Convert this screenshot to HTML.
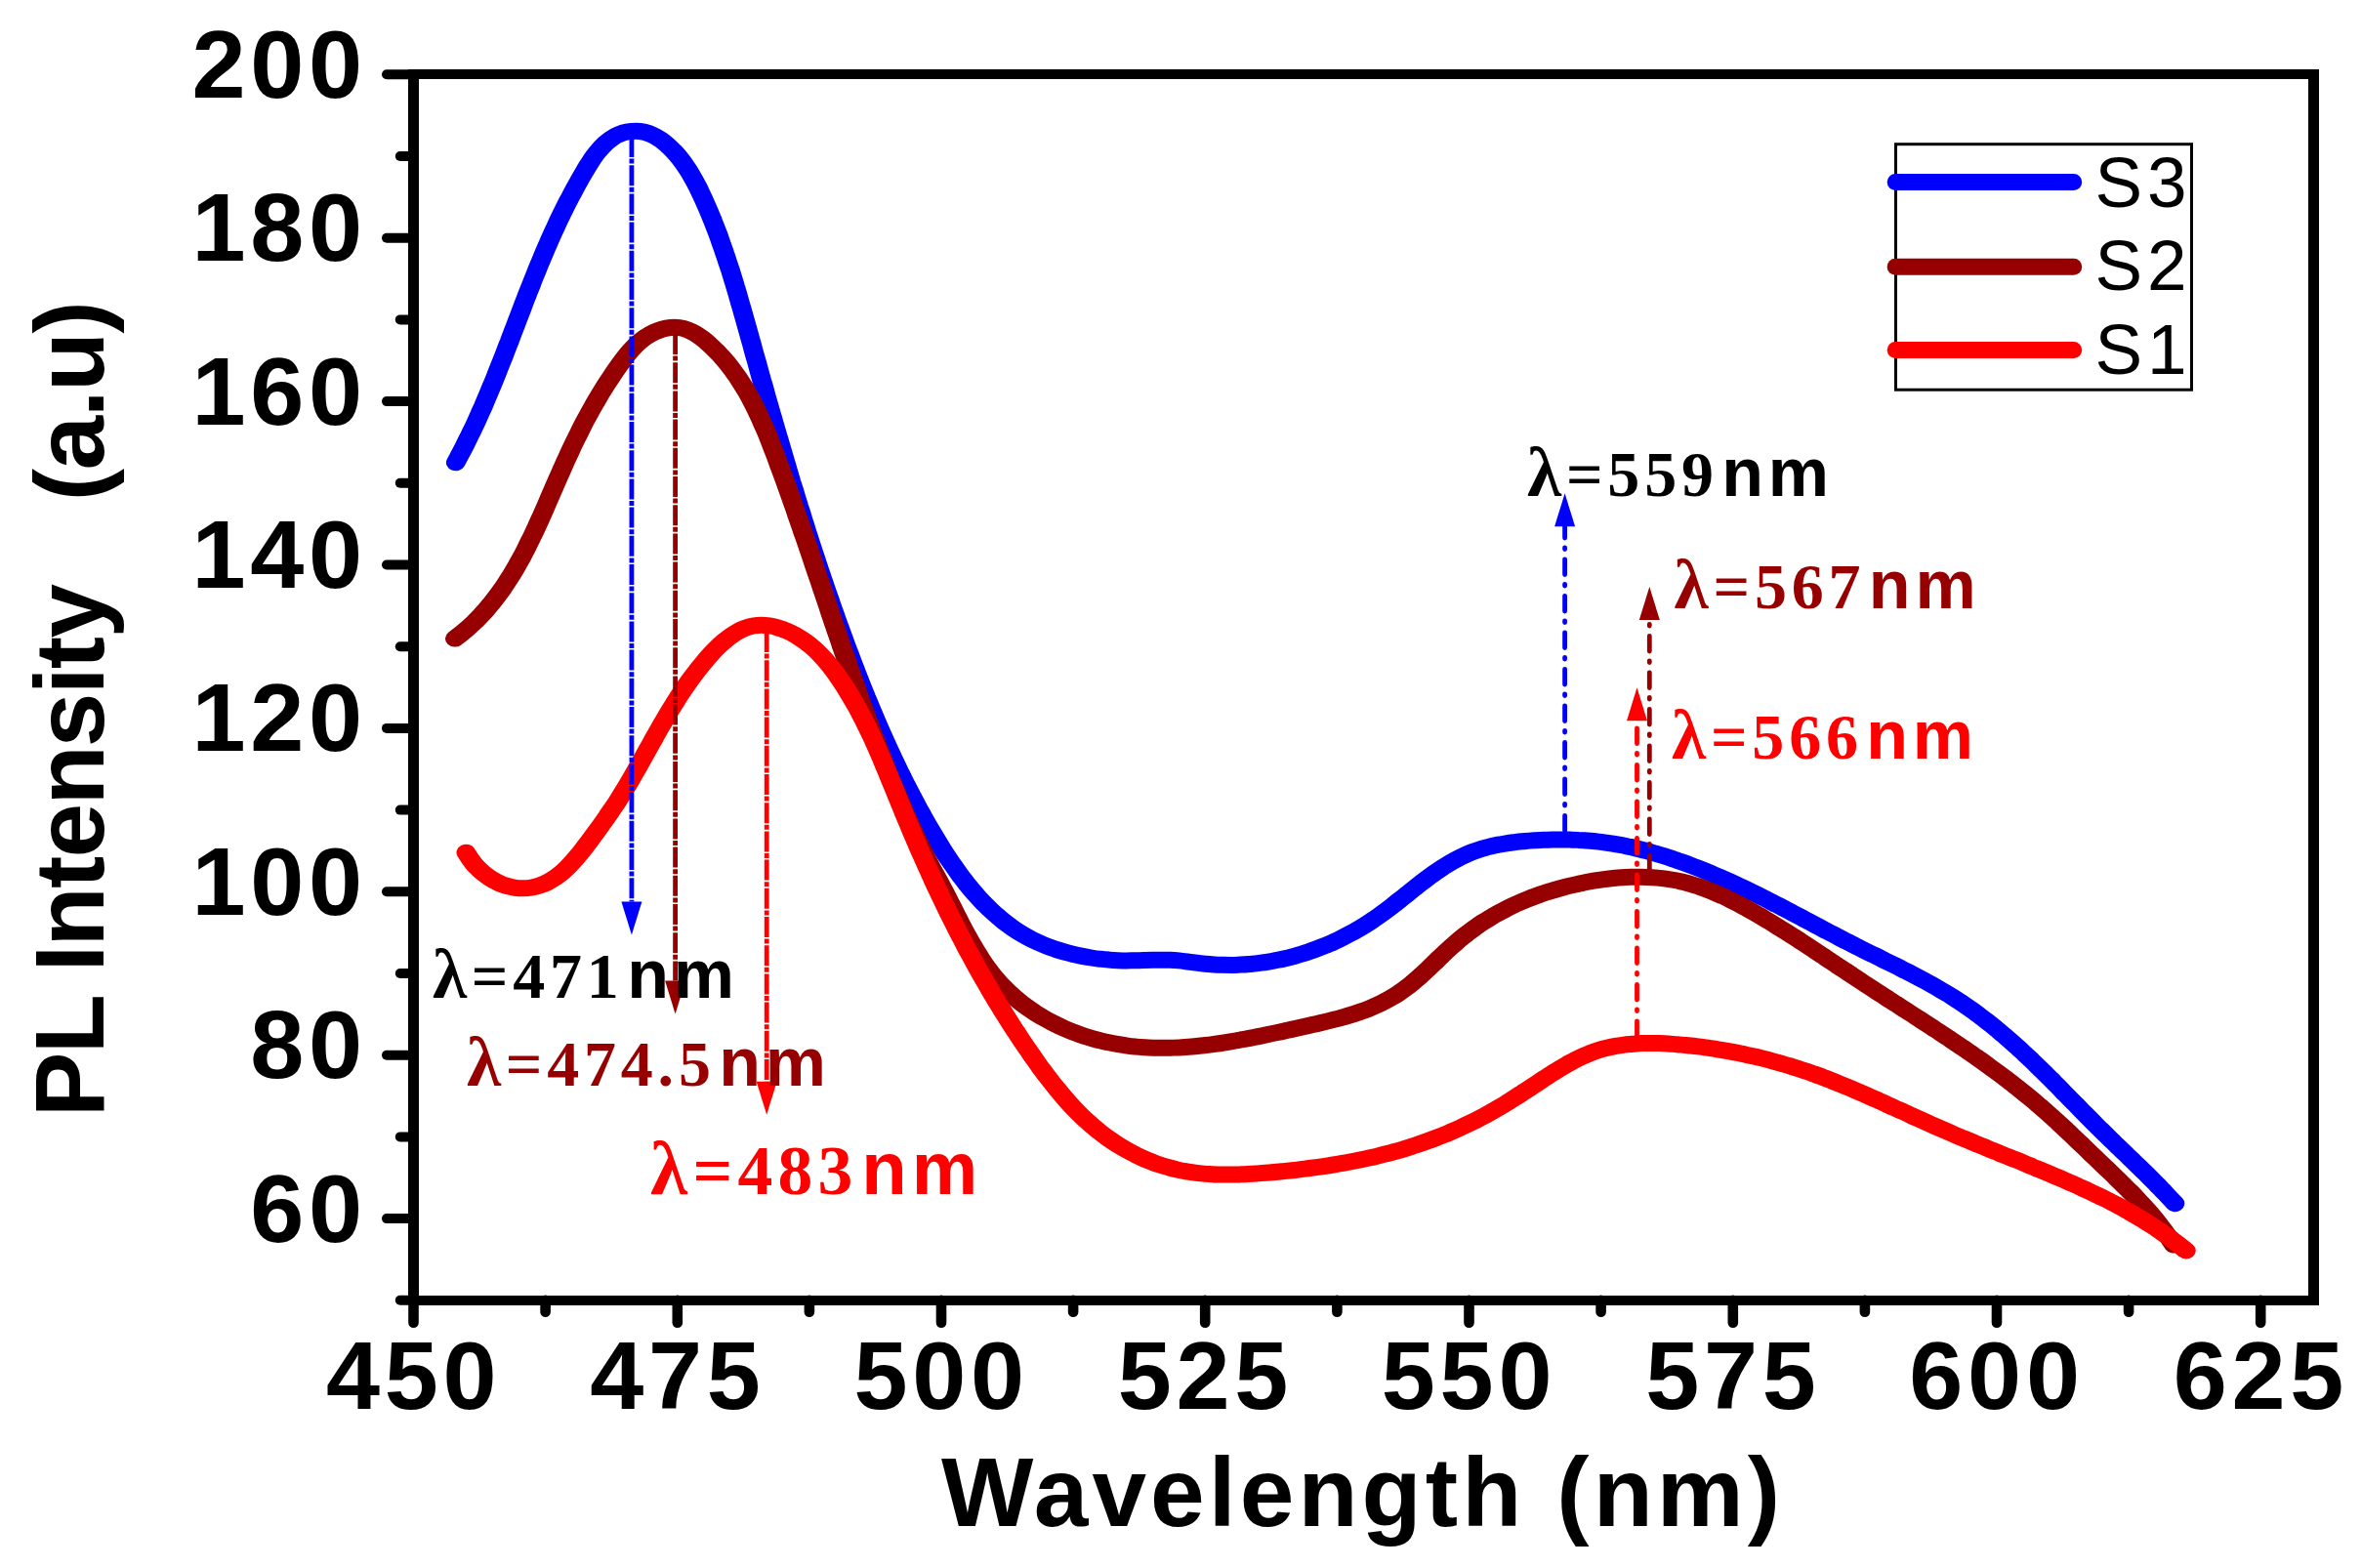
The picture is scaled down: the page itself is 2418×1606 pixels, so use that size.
<!DOCTYPE html>
<html lang="en"><head><meta charset="utf-8"><title>PL Intensity vs Wavelength</title>
<style>html,body{margin:0;padding:0;background:#fff}svg{display:block}.ab{font-family:"Liberation Sans",Arial,sans-serif;font-weight:bold}.ar{font-family:"Liberation Sans",Arial,sans-serif}.tb{font-family:"Liberation Serif","Times New Roman",serif;font-weight:bold}</style></head><body>
<svg width="2418" height="1606" viewBox="0 0 2418 1606">
<rect width="2418" height="1606" fill="#fff"/>
<g transform="scale(1.16 1)" fill="none" stroke-linecap="round" stroke-linejoin="round" stroke-width="17">
<path stroke="#0000ff" d="M402.4 473.7C403.0 472.4 404.9 468.3 406.1 465.6C407.4 462.9 408.6 460.2 409.8 457.5C411.0 454.8 412.1 452.0 413.3 449.3C414.4 446.6 415.6 443.9 416.7 441.2C417.9 438.5 419.0 435.8 420.1 433.0C421.2 430.2 422.2 427.4 423.3 424.7C424.3 421.9 425.4 419.2 426.5 416.5C427.5 413.8 428.5 411.0 429.5 408.2C430.5 405.4 431.5 402.7 432.5 399.9C433.5 397.1 434.5 394.4 435.5 391.6C436.5 388.8 437.4 386.1 438.4 383.3C439.3 380.5 440.3 377.7 441.2 374.9C442.2 372.1 443.1 369.4 444.1 366.6C445.0 363.8 446.0 361.0 446.9 358.2C447.8 355.4 448.7 352.7 449.7 349.9C450.6 347.1 451.5 344.3 452.4 341.5C453.3 338.7 454.3 335.9 455.2 333.1C456.1 330.3 457.0 327.6 457.9 324.8C458.9 322.0 459.8 319.2 460.7 316.4C461.6 313.6 462.5 310.8 463.4 308.0C464.4 305.2 465.3 302.5 466.2 299.7C467.1 296.9 468.1 294.1 469.1 291.3C470.0 288.5 470.9 285.8 471.9 283.0C472.9 280.2 473.9 277.4 474.8 274.6C475.8 271.8 476.8 269.1 477.8 266.3C478.8 263.5 479.8 260.8 480.8 258.0C481.8 255.2 482.8 252.4 483.9 249.7C484.9 246.9 485.9 244.2 487.0 241.5C488.0 238.8 489.2 235.9 490.3 233.2C491.4 230.4 492.4 227.7 493.5 225.0C494.7 222.3 495.8 219.5 497.0 216.8C498.1 214.1 499.2 211.4 500.4 208.7C501.6 206.0 502.9 203.3 504.1 200.6C505.4 197.9 506.6 195.2 507.8 192.5C509.1 189.8 510.4 187.1 511.7 184.4C513.0 181.7 514.3 179.1 515.7 176.4C517.0 173.7 518.4 171.0 519.8 168.4C521.3 165.8 522.7 163.2 524.2 160.7C525.7 158.2 527.3 155.8 529.0 153.6C530.6 151.3 532.4 149.2 534.2 147.2C536.1 145.2 538.0 143.4 540.0 141.8C542.0 140.2 544.2 138.8 546.5 137.7C548.8 136.6 551.2 135.7 553.7 135.1C556.2 134.5 558.8 134.2 561.3 134.2C563.8 134.2 566.3 134.6 568.8 135.3C571.2 136.0 573.7 137.0 576.0 138.2C578.4 139.4 580.6 141.0 582.8 142.7C584.9 144.4 587.0 146.4 589.1 148.4C591.1 150.4 593.0 152.7 594.8 154.9C596.7 157.1 598.4 159.4 600.0 161.8C601.6 164.2 603.2 166.6 604.7 169.1C606.1 171.6 607.6 174.1 609.0 176.7C610.3 179.3 611.6 181.9 612.8 184.5C614.1 187.1 615.3 189.8 616.5 192.5C617.6 195.2 618.7 198.0 619.8 200.7C620.9 203.4 622.0 206.2 623.0 208.9C624.1 211.7 625.1 214.4 626.1 217.2C627.1 220.0 628.1 222.7 629.1 225.5C630.0 228.3 631.0 231.1 631.9 233.9C632.8 236.7 633.8 239.5 634.7 242.3C635.5 245.1 636.4 248.0 637.2 250.8C638.1 253.6 639.0 256.5 639.8 259.3C640.7 262.1 641.4 265.0 642.2 267.8C643.0 270.6 643.9 273.5 644.7 276.3C645.4 279.1 646.2 282.0 647.0 284.9C647.7 287.8 648.5 290.6 649.2 293.5C650.0 296.4 650.7 299.2 651.4 302.1C652.1 305.0 652.8 307.9 653.5 310.8C654.3 313.7 655.0 316.5 655.7 319.4C656.4 322.3 657.1 325.2 657.8 328.1C658.5 331.0 659.2 333.9 659.9 336.8C660.6 339.7 661.3 342.5 662.0 345.4C662.7 348.3 663.4 351.2 664.1 354.1C664.7 357.0 665.4 359.9 666.1 362.8C666.8 365.7 667.6 368.6 668.3 371.5C669.0 374.4 669.7 377.3 670.3 380.2C671.0 383.1 671.7 386.0 672.4 388.9C673.1 391.8 673.9 394.7 674.6 397.6C675.3 400.5 675.9 403.3 676.6 406.2C677.3 409.1 678.1 412.0 678.8 414.9C679.5 417.8 680.2 420.7 680.9 423.6C681.7 426.5 682.4 429.4 683.1 432.3C683.8 435.2 684.5 438.1 685.3 441.0C686.0 443.9 686.8 446.7 687.5 449.6C688.2 452.5 688.9 455.4 689.7 458.3C690.4 461.2 691.2 464.1 691.9 467.0C692.6 469.9 693.3 472.7 694.1 475.6C694.8 478.5 695.5 481.4 696.3 484.3C697.0 487.2 697.8 490.0 698.5 492.9C699.3 495.8 700.1 498.7 700.9 501.6C701.6 504.5 702.3 507.3 703.1 510.2C703.9 513.1 704.7 515.9 705.4 518.8C706.2 521.7 707.0 524.5 707.8 527.4C708.5 530.3 709.3 533.1 710.1 536.0C710.9 538.9 711.6 541.7 712.4 544.6C713.2 547.5 714.0 550.3 714.8 553.2C715.6 556.1 716.4 558.9 717.2 561.8C718.0 564.7 718.9 567.5 719.7 570.4C720.5 573.3 721.2 576.1 722.1 579.0C722.9 581.9 723.7 584.6 724.6 587.5C725.4 590.4 726.2 593.2 727.1 596.1C727.9 599.0 728.7 601.8 729.6 604.6C730.4 607.4 731.3 610.3 732.2 613.1C733.0 615.9 733.8 618.8 734.7 621.6C735.5 624.4 736.5 627.3 737.3 630.1C738.2 632.9 739.0 635.8 739.9 638.6C740.8 641.4 741.7 644.2 742.6 647.0C743.5 649.8 744.4 652.7 745.3 655.5C746.1 658.3 747.0 661.1 747.9 663.9C748.8 666.7 749.8 669.5 750.7 672.3C751.6 675.1 752.5 677.9 753.4 680.7C754.4 683.5 755.3 686.3 756.2 689.1C757.1 691.9 758.1 694.7 759.1 697.5C760.0 700.3 760.9 703.0 761.9 705.8C762.9 708.6 763.9 711.3 764.8 714.1C765.8 716.9 766.8 719.6 767.8 722.4C768.8 725.2 769.8 727.9 770.8 730.7C771.8 733.5 772.8 736.2 773.8 739.0C774.8 741.8 775.8 744.5 776.9 747.2C777.9 750.0 779.0 752.8 780.1 755.5C781.1 758.2 782.2 761.0 783.3 763.7C784.3 766.4 785.4 769.1 786.5 771.8C787.6 774.5 788.7 777.3 789.8 780.0C790.9 782.7 792.1 785.4 793.2 788.1C794.3 790.8 795.5 793.5 796.6 796.2C797.8 798.9 798.9 801.6 800.1 804.3C801.3 807.0 802.5 809.6 803.7 812.3C804.9 815.0 806.1 817.6 807.3 820.3C808.5 823.0 809.8 825.6 811.0 828.3C812.3 830.9 813.5 833.6 814.8 836.2C816.1 838.9 817.4 841.6 818.7 844.2C820.0 846.8 821.3 849.4 822.7 852.0C824.0 854.6 825.4 857.3 826.7 859.9C828.1 862.5 829.5 865.1 830.9 867.7C832.3 870.3 833.6 872.9 835.1 875.4C836.5 877.9 838.0 880.5 839.5 883.0C841.0 885.5 842.5 887.9 844.0 890.4C845.5 892.9 847.0 895.4 848.5 897.8C850.1 900.2 851.7 902.5 853.3 904.9C854.9 907.2 856.5 909.6 858.2 911.9C859.9 914.2 861.6 916.4 863.3 918.6C865.0 920.8 866.8 923.0 868.5 925.1C870.3 927.2 872.1 929.4 874.0 931.4C875.8 933.4 877.7 935.4 879.7 937.3C881.6 939.2 883.4 941.1 885.4 943.0C887.4 944.9 889.5 946.7 891.6 948.4C893.6 950.1 895.6 951.8 897.8 953.4C899.9 955.0 902.1 956.5 904.3 958.0C906.5 959.5 908.8 960.9 911.0 962.2C913.3 963.5 915.7 964.8 918.0 966.0C920.4 967.2 922.7 968.4 925.2 969.5C927.6 970.6 930.1 971.5 932.6 972.5C935.1 973.5 937.6 974.4 940.1 975.2C942.6 976.0 945.2 976.8 947.8 977.5C950.3 978.2 952.9 978.8 955.5 979.4C958.1 980.0 960.7 980.5 963.4 981.0C966.0 981.5 968.6 981.9 971.2 982.2C973.8 982.6 976.4 982.9 979.1 983.1C981.7 983.4 984.3 983.6 986.9 983.7C989.5 983.8 992.2 983.9 994.7 983.9C997.3 983.9 999.9 983.8 1002.4 983.8C1005.0 983.8 1007.5 983.7 1010.1 983.6C1012.6 983.5 1015.2 983.4 1017.8 983.3C1020.3 983.2 1022.8 983.2 1025.3 983.2C1027.9 983.2 1030.4 983.2 1033.0 983.3C1035.6 983.4 1038.2 983.6 1040.8 983.9C1043.4 984.2 1045.9 984.6 1048.5 985.0C1051.1 985.4 1053.7 985.8 1056.3 986.2C1058.9 986.6 1061.5 986.9 1064.1 987.2C1066.8 987.5 1069.4 987.7 1072.0 987.9C1074.6 988.1 1077.2 988.2 1079.7 988.3C1082.3 988.4 1084.9 988.4 1087.5 988.4C1090.1 988.4 1092.7 988.2 1095.3 988.1C1097.8 988.0 1100.4 987.8 1103.0 987.5C1105.6 987.2 1108.1 987.0 1110.7 986.6C1113.2 986.2 1115.8 985.9 1118.4 985.4C1120.9 984.9 1123.4 984.4 1125.9 983.8C1128.5 983.2 1131.0 982.7 1133.5 982.0C1136.0 981.3 1138.5 980.6 1141.0 979.8C1143.5 979.0 1146.1 978.3 1148.5 977.4C1151.0 976.5 1153.4 975.6 1155.9 974.6C1158.3 973.6 1160.8 972.7 1163.2 971.6C1165.6 970.5 1168.0 969.4 1170.4 968.3C1172.8 967.1 1175.2 966.0 1177.6 964.7C1180.0 963.5 1182.3 962.1 1184.7 960.8C1187.0 959.4 1189.3 958.0 1191.6 956.6C1193.9 955.2 1196.2 953.7 1198.4 952.2C1200.7 950.7 1202.9 949.2 1205.1 947.6C1207.3 946.0 1209.6 944.3 1211.7 942.6C1213.9 940.9 1216.0 939.2 1218.1 937.5C1220.2 935.8 1222.3 933.9 1224.4 932.1C1226.5 930.3 1228.6 928.5 1230.6 926.6C1232.6 924.8 1234.6 922.9 1236.6 921.0C1238.7 919.1 1240.7 917.3 1242.8 915.4C1244.8 913.5 1246.8 911.6 1248.8 909.8C1250.8 907.9 1252.8 906.1 1254.8 904.3C1256.9 902.5 1258.9 900.7 1260.9 898.9C1263.0 897.1 1265.1 895.3 1267.2 893.6C1269.3 891.9 1271.4 890.3 1273.5 888.7C1275.7 887.1 1277.8 885.5 1280.0 884.0C1282.2 882.5 1284.3 881.1 1286.6 879.7C1288.8 878.3 1291.0 877.0 1293.4 875.8C1295.7 874.6 1298.0 873.4 1300.4 872.4C1302.8 871.4 1305.3 870.4 1307.8 869.5C1310.2 868.6 1312.8 867.8 1315.3 867.1C1317.9 866.4 1320.4 865.7 1323.0 865.1C1325.6 864.5 1328.2 864.1 1330.9 863.6C1333.5 863.1 1336.1 862.8 1338.8 862.4C1341.5 862.0 1344.2 861.8 1346.8 861.5C1349.5 861.2 1352.1 861.0 1354.7 860.8C1357.4 860.6 1360.0 860.4 1362.6 860.3C1365.2 860.2 1367.8 860.1 1370.4 860.0C1373.0 859.9 1375.6 859.9 1378.2 859.9C1380.8 859.9 1383.3 860.0 1385.9 860.1C1388.4 860.2 1391.0 860.2 1393.5 860.4C1396.1 860.5 1398.7 860.8 1401.2 861.0C1403.8 861.2 1406.3 861.5 1408.8 861.8C1411.3 862.1 1413.9 862.4 1416.4 862.8C1418.9 863.2 1421.4 863.6 1424.0 864.1C1426.5 864.6 1429.0 865.1 1431.6 865.6C1434.1 866.1 1436.5 866.8 1439.1 867.4C1441.6 868.0 1444.1 868.8 1446.6 869.5C1449.2 870.2 1451.7 870.9 1454.2 871.7C1456.7 872.5 1459.2 873.4 1461.7 874.2C1464.2 875.1 1466.7 875.9 1469.2 876.8C1471.7 877.7 1474.2 878.6 1476.6 879.6C1479.1 880.6 1481.7 881.6 1484.1 882.6C1486.6 883.6 1489.0 884.6 1491.5 885.7C1493.9 886.8 1496.4 887.9 1498.9 889.0C1501.3 890.1 1503.7 891.2 1506.1 892.4C1508.5 893.6 1511.0 894.8 1513.4 896.0C1515.9 897.2 1518.2 898.4 1520.6 899.6C1523.0 900.8 1525.4 902.0 1527.8 903.3C1530.1 904.5 1532.5 905.8 1534.8 907.1C1537.2 908.4 1539.5 909.7 1541.8 911.0C1544.1 912.3 1546.5 913.6 1548.8 914.9C1551.1 916.2 1553.4 917.5 1555.7 918.9C1558.0 920.2 1560.3 921.6 1562.6 923.0C1564.9 924.4 1567.2 925.7 1569.5 927.1C1571.8 928.5 1574.1 929.8 1576.4 931.2C1578.7 932.6 1580.9 934.0 1583.2 935.4C1585.5 936.8 1587.7 938.2 1590.0 939.6C1592.3 941.0 1594.5 942.4 1596.8 943.8C1599.1 945.2 1601.4 946.6 1603.6 948.0C1605.9 949.4 1608.1 950.8 1610.4 952.2C1612.7 953.6 1615.0 954.9 1617.3 956.3C1619.6 957.7 1621.9 959.1 1624.1 960.5C1626.4 961.9 1628.7 963.2 1631.0 964.6C1633.3 966.0 1635.7 967.3 1638.0 968.7C1640.3 970.1 1642.6 971.4 1644.9 972.8C1647.2 974.1 1649.6 975.5 1651.9 976.8C1654.2 978.1 1656.6 979.5 1659.0 980.8C1661.3 982.1 1663.6 983.5 1665.9 984.8C1668.3 986.1 1670.6 987.4 1672.9 988.8C1675.3 990.1 1677.6 991.5 1679.9 992.9C1682.2 994.3 1684.6 995.6 1686.9 997.0C1689.2 998.4 1691.5 999.8 1693.8 1001.2C1696.1 1002.6 1698.4 1004.0 1700.7 1005.5C1703.0 1007.0 1705.2 1008.4 1707.5 1009.9C1709.8 1011.4 1712.0 1012.9 1714.2 1014.4C1716.5 1015.9 1718.7 1017.4 1720.9 1019.0C1723.1 1020.6 1725.2 1022.2 1727.4 1023.8C1729.6 1025.4 1731.8 1027.1 1733.9 1028.8C1736.0 1030.5 1738.1 1032.2 1740.2 1033.9C1742.3 1035.6 1744.4 1037.4 1746.5 1039.2C1748.5 1041.0 1750.5 1042.8 1752.6 1044.6C1754.6 1046.4 1756.7 1048.3 1758.7 1050.2C1760.7 1052.1 1762.7 1054.0 1764.7 1055.9C1766.6 1057.8 1768.6 1059.8 1770.6 1061.7C1772.6 1063.7 1774.5 1065.6 1776.4 1067.6C1778.3 1069.6 1780.2 1071.6 1782.2 1073.6C1784.1 1075.6 1785.9 1077.7 1787.8 1079.7C1789.7 1081.8 1791.7 1083.8 1793.5 1085.9C1795.4 1088.0 1797.3 1090.1 1799.1 1092.2C1801.0 1094.3 1802.9 1096.4 1804.7 1098.5C1806.6 1100.6 1808.4 1102.8 1810.3 1104.9C1812.1 1107.0 1813.9 1109.2 1815.7 1111.3C1817.5 1113.4 1819.4 1115.6 1821.2 1117.8C1823.0 1120.0 1824.8 1122.0 1826.6 1124.2C1828.5 1126.4 1830.3 1128.5 1832.2 1130.7C1834.0 1132.9 1835.8 1135.1 1837.6 1137.2C1839.4 1139.3 1841.3 1141.5 1843.1 1143.6C1844.9 1145.7 1846.7 1147.9 1848.5 1150.0C1850.4 1152.1 1852.2 1154.3 1854.1 1156.4C1855.9 1158.5 1857.8 1160.6 1859.7 1162.7C1861.5 1164.8 1863.3 1166.9 1865.2 1169.0C1867.0 1171.1 1868.9 1173.1 1870.8 1175.2C1872.6 1177.3 1874.5 1179.4 1876.4 1181.5C1878.2 1183.6 1880.1 1185.6 1882.0 1187.7C1883.8 1189.8 1885.6 1191.9 1887.5 1194.0C1889.4 1196.1 1891.2 1198.2 1893.1 1200.3C1895.0 1202.4 1896.8 1204.5 1898.6 1206.6C1900.4 1208.7 1902.2 1210.8 1904.1 1213.0C1905.9 1215.2 1907.7 1217.3 1909.5 1219.5C1911.3 1221.7 1913.0 1223.8 1914.8 1226.0C1916.6 1228.2 1919.3 1231.6 1920.2 1232.7"/>
<path stroke="#960000" d="M401.6 654.1C402.6 653.2 405.8 650.4 407.8 648.5C409.9 646.6 411.9 644.5 413.9 642.5C415.8 640.5 417.7 638.5 419.6 636.4C421.4 634.3 423.2 632.1 425.0 629.9C426.8 627.7 428.4 625.5 430.1 623.3C431.8 621.0 433.4 618.7 435.0 616.4C436.6 614.1 438.2 611.7 439.7 609.3C441.3 606.9 442.8 604.5 444.2 602.0C445.7 599.5 447.1 597.1 448.4 594.6C449.8 592.1 451.2 589.6 452.6 587.0C453.9 584.4 455.2 581.8 456.5 579.2C457.7 576.6 459.0 574.0 460.3 571.4C461.5 568.8 462.7 566.1 463.9 563.4C465.1 560.7 466.2 558.0 467.3 555.3C468.5 552.6 469.7 549.8 470.8 547.1C471.9 544.4 473.0 541.6 474.1 538.9C475.1 536.1 476.3 533.4 477.3 530.6C478.4 527.8 479.5 525.1 480.5 522.3C481.6 519.5 482.6 516.8 483.6 514.0C484.7 511.2 485.7 508.5 486.7 505.7C487.8 502.9 488.8 500.2 489.8 497.4C490.9 494.6 491.9 491.9 492.9 489.1C494.0 486.3 495.1 483.6 496.1 480.8C497.2 478.1 498.2 475.3 499.2 472.6C500.3 469.9 501.4 467.2 502.5 464.5C503.6 461.8 504.6 459.1 505.7 456.4C506.8 453.7 507.9 451.1 509.1 448.4C510.2 445.7 511.4 443.0 512.5 440.4C513.6 437.8 514.8 435.1 515.9 432.5C517.1 429.9 518.3 427.3 519.6 424.7C520.8 422.1 522.1 419.4 523.4 416.8C524.6 414.2 525.8 411.7 527.2 409.1C528.5 406.5 529.8 403.9 531.2 401.3C532.6 398.7 533.9 396.2 535.3 393.6C536.8 391.1 538.2 388.6 539.7 386.0C541.1 383.4 542.5 380.8 544.1 378.3C545.6 375.8 547.1 373.3 548.7 370.8C550.3 368.3 551.9 365.8 553.6 363.4C555.3 361.0 557.1 358.6 558.9 356.4C560.7 354.2 562.6 352.1 564.6 350.1C566.6 348.2 568.6 346.3 570.8 344.7C572.9 343.1 575.2 341.6 577.6 340.3C579.9 339.0 582.4 337.9 584.8 337.1C587.3 336.3 589.9 335.8 592.3 335.5C594.8 335.2 597.2 335.2 599.7 335.6C602.1 336.0 604.5 336.7 606.8 337.7C609.1 338.7 611.4 339.9 613.6 341.4C615.8 342.9 617.9 344.7 620.0 346.5C622.1 348.3 624.1 350.4 626.0 352.4C628.0 354.4 629.9 356.6 631.7 358.7C633.6 360.8 635.3 363.0 637.1 365.2C638.8 367.4 640.5 369.8 642.2 372.1C643.8 374.4 645.4 376.8 646.9 379.2C648.4 381.6 649.9 384.0 651.4 386.5C652.8 389.0 654.2 391.5 655.5 394.0C656.9 396.5 658.3 399.1 659.6 401.7C660.9 404.3 662.1 407.0 663.3 409.6C664.5 412.2 665.7 414.9 666.8 417.6C668.0 420.3 669.1 423.1 670.2 425.8C671.3 428.6 672.4 431.3 673.4 434.1C674.5 436.9 675.5 439.6 676.6 442.4C677.6 445.2 678.5 448.1 679.5 450.9C680.4 453.7 681.4 456.6 682.3 459.4C683.3 462.2 684.3 465.1 685.2 467.9C686.1 470.7 686.9 473.5 687.8 476.4C688.8 479.2 689.7 482.1 690.6 485.0C691.5 487.9 692.4 490.7 693.3 493.5C694.2 496.3 695.0 499.2 695.9 502.0C696.7 504.8 697.7 507.6 698.5 510.5C699.4 513.4 700.3 516.2 701.1 519.1C702.0 522.0 702.8 524.8 703.6 527.6C704.5 530.4 705.4 533.3 706.2 536.1C707.1 538.9 707.9 541.8 708.7 544.6C709.6 547.4 710.4 550.3 711.3 553.1C712.1 555.9 713.0 558.8 713.8 561.6C714.6 564.4 715.5 567.3 716.3 570.1C717.1 572.9 717.9 575.8 718.7 578.6C719.5 581.4 720.4 584.3 721.2 587.1C722.0 589.9 722.9 592.7 723.7 595.5C724.5 598.3 725.3 601.2 726.1 604.0C726.9 606.8 727.8 609.6 728.6 612.5C729.5 615.4 730.3 618.2 731.1 621.1C731.9 624.0 732.7 626.8 733.5 629.6C734.4 632.4 735.2 635.3 736.0 638.1C736.9 640.9 737.7 643.8 738.5 646.6C739.4 649.4 740.2 652.2 741.0 655.1C741.9 658.0 742.7 660.9 743.5 663.7C744.4 666.6 745.3 669.4 746.1 672.2C747.0 675.0 747.8 677.9 748.6 680.7C749.5 683.6 750.3 686.4 751.2 689.3C752.1 692.1 752.9 695.0 753.8 697.8C754.7 700.6 755.5 703.4 756.4 706.3C757.2 709.1 758.1 712.0 759.0 714.9C759.8 717.8 760.7 720.6 761.6 723.4C762.5 726.2 763.4 729.1 764.3 731.9C765.2 734.7 766.1 737.6 767.0 740.4C767.9 743.2 768.8 746.0 769.7 748.8C770.7 751.6 771.6 754.5 772.5 757.3C773.4 760.1 774.3 763.0 775.3 765.8C776.2 768.6 777.2 771.4 778.1 774.2C779.1 777.0 780.0 779.8 780.9 782.6C781.9 785.4 782.8 788.2 783.8 791.0C784.8 793.8 785.7 796.5 786.7 799.3C787.7 802.1 788.7 804.8 789.7 807.6C790.7 810.4 791.8 813.1 792.8 815.9C793.8 818.7 794.8 821.5 795.8 824.2C796.8 827.0 797.8 829.7 798.9 832.4C799.9 835.1 801.0 837.9 802.1 840.6C803.1 843.3 804.2 846.0 805.3 848.7C806.3 851.4 807.4 854.1 808.4 856.7C809.5 859.4 810.6 862.0 811.7 864.6C812.8 867.2 814.0 869.8 815.1 872.4C816.2 875.0 817.3 877.6 818.4 880.1C819.6 882.6 820.7 885.1 821.9 887.6C823.0 890.1 824.2 892.5 825.3 895.0C826.5 897.5 827.7 900.0 828.9 902.5C830.0 905.0 831.2 907.5 832.3 910.0C833.5 912.5 834.6 915.1 835.8 917.7C836.9 920.3 838.1 923.0 839.2 925.6C840.4 928.2 841.6 930.9 842.8 933.6C843.9 936.3 845.1 939.0 846.3 941.7C847.5 944.4 848.7 947.2 849.9 949.9C851.1 952.6 852.4 955.3 853.7 958.0C855.0 960.7 856.3 963.4 857.6 966.0C858.9 968.6 860.3 971.3 861.6 973.9C863.0 976.5 864.4 979.1 865.9 981.7C867.3 984.3 868.8 986.8 870.3 989.3C871.9 991.8 873.5 994.2 875.1 996.6C876.7 999.0 878.3 1001.3 880.0 1003.6C881.7 1005.9 883.4 1008.1 885.3 1010.2C887.1 1012.4 889.0 1014.5 890.9 1016.5C892.8 1018.5 894.7 1020.6 896.6 1022.5C898.6 1024.4 900.5 1026.3 902.6 1028.1C904.6 1029.9 906.8 1031.7 908.9 1033.4C911.0 1035.1 913.2 1036.8 915.3 1038.4C917.5 1040.0 919.7 1041.5 922.0 1043.0C924.2 1044.5 926.5 1045.9 928.8 1047.3C931.1 1048.7 933.4 1050.0 935.8 1051.3C938.1 1052.6 940.5 1053.8 942.8 1054.9C945.2 1056.1 947.7 1057.2 950.1 1058.2C952.5 1059.2 954.9 1060.3 957.4 1061.2C959.9 1062.1 962.4 1063.0 964.9 1063.8C967.4 1064.6 969.9 1065.4 972.4 1066.1C974.9 1066.8 977.5 1067.5 980.0 1068.1C982.5 1068.7 985.0 1069.2 987.6 1069.7C990.1 1070.2 992.7 1070.7 995.3 1071.1C997.8 1071.5 1000.4 1071.8 1002.9 1072.1C1005.5 1072.4 1008.0 1072.6 1010.6 1072.8C1013.2 1073.0 1015.7 1073.1 1018.3 1073.2C1020.8 1073.3 1023.4 1073.3 1025.9 1073.3C1028.5 1073.3 1031.0 1073.3 1033.6 1073.2C1036.2 1073.1 1038.8 1073.1 1041.4 1072.9C1044.0 1072.8 1046.5 1072.5 1049.1 1072.3C1051.6 1072.1 1054.2 1071.8 1056.8 1071.5C1059.4 1071.2 1061.9 1070.8 1064.5 1070.5C1067.1 1070.2 1069.7 1069.8 1072.2 1069.4C1074.8 1069.0 1077.3 1068.6 1079.9 1068.1C1082.5 1067.6 1085.1 1067.1 1087.7 1066.6C1090.3 1066.1 1092.9 1065.5 1095.4 1065.0C1098.0 1064.5 1100.5 1064.0 1103.1 1063.4C1105.7 1062.8 1108.3 1062.2 1110.9 1061.6C1113.4 1061.0 1116.0 1060.4 1118.5 1059.8C1121.1 1059.2 1123.7 1058.6 1126.3 1057.9C1128.9 1057.2 1131.4 1056.6 1134.0 1055.9C1136.5 1055.2 1139.2 1054.7 1141.7 1054.0C1144.3 1053.3 1146.8 1052.7 1149.4 1052.0C1152.0 1051.3 1154.5 1050.7 1157.1 1050.0C1159.6 1049.3 1162.2 1048.7 1164.7 1048.0C1167.3 1047.3 1169.8 1046.6 1172.3 1045.9C1174.9 1045.2 1177.4 1044.5 1179.9 1043.7C1182.4 1042.9 1184.9 1042.1 1187.3 1041.3C1189.8 1040.5 1192.3 1039.6 1194.7 1038.7C1197.2 1037.8 1199.6 1036.9 1202.0 1035.9C1204.4 1034.9 1206.8 1033.9 1209.1 1032.8C1211.5 1031.7 1213.8 1030.5 1216.1 1029.3C1218.4 1028.1 1220.7 1026.8 1222.9 1025.4C1225.2 1024.0 1227.4 1022.6 1229.6 1021.1C1231.8 1019.6 1233.9 1018.0 1236.0 1016.3C1238.2 1014.6 1240.3 1012.8 1242.3 1011.0C1244.4 1009.2 1246.4 1007.2 1248.4 1005.3C1250.4 1003.3 1252.4 1001.3 1254.3 999.3C1256.3 997.3 1258.2 995.2 1260.1 993.1C1262.0 991.0 1263.9 988.8 1265.9 986.7C1267.8 984.6 1269.7 982.4 1271.6 980.3C1273.6 978.2 1275.5 976.0 1277.4 973.9C1279.4 971.8 1281.3 969.7 1283.3 967.7C1285.3 965.7 1287.3 963.6 1289.3 961.7C1291.3 959.8 1293.3 957.9 1295.3 956.1C1297.4 954.3 1299.5 952.5 1301.6 950.7C1303.7 949.0 1305.8 947.2 1307.9 945.6C1310.1 944.0 1312.2 942.4 1314.4 940.9C1316.6 939.4 1318.8 937.8 1321.0 936.4C1323.3 935.0 1325.5 933.6 1327.8 932.2C1330.0 930.8 1332.3 929.5 1334.6 928.2C1336.9 926.9 1339.1 925.7 1341.5 924.5C1343.8 923.3 1346.2 922.2 1348.5 921.1C1350.9 920.0 1353.3 918.9 1355.7 917.9C1358.1 916.9 1360.5 915.8 1362.9 914.9C1365.4 914.0 1367.8 913.1 1370.3 912.2C1372.7 911.3 1375.3 910.5 1377.8 909.7C1380.3 908.9 1382.7 908.1 1385.3 907.4C1387.8 906.7 1390.4 906.0 1392.9 905.4C1395.5 904.8 1398.0 904.1 1400.6 903.5C1403.2 902.9 1405.8 902.4 1408.4 901.9C1411.0 901.4 1413.6 901.0 1416.2 900.6C1418.8 900.2 1421.4 899.8 1424.1 899.5C1426.7 899.2 1429.3 898.9 1431.9 898.7C1434.5 898.5 1437.1 898.4 1439.7 898.3C1442.4 898.2 1445.0 898.2 1447.6 898.2C1450.2 898.2 1452.8 898.2 1455.4 898.4C1458.0 898.5 1460.6 898.8 1463.2 899.1C1465.8 899.4 1468.3 899.7 1470.9 900.1C1473.4 900.5 1476.0 901.0 1478.5 901.5C1481.1 902.0 1483.5 902.7 1486.0 903.4C1488.5 904.1 1491.0 904.9 1493.4 905.7C1495.9 906.5 1498.3 907.5 1500.8 908.4C1503.2 909.3 1505.6 910.3 1508.0 911.4C1510.4 912.5 1512.7 913.6 1515.1 914.8C1517.4 916.0 1519.8 917.1 1522.2 918.4C1524.5 919.7 1526.8 921.0 1529.1 922.4C1531.5 923.8 1533.8 925.1 1536.1 926.5C1538.4 927.9 1540.7 929.3 1542.9 930.8C1545.2 932.3 1547.5 933.8 1549.7 935.3C1552.0 936.8 1554.2 938.4 1556.5 939.9C1558.7 941.4 1560.9 942.9 1563.1 944.5C1565.3 946.1 1567.5 947.7 1569.7 949.3C1572.0 950.9 1574.2 952.5 1576.4 954.1C1578.6 955.7 1580.8 957.3 1582.9 958.9C1585.1 960.5 1587.2 962.2 1589.4 963.8C1591.6 965.4 1593.8 967.1 1595.9 968.7C1598.1 970.4 1600.3 972.0 1602.4 973.7C1604.6 975.4 1606.7 977.0 1608.9 978.7C1611.0 980.4 1613.2 982.0 1615.3 983.7C1617.5 985.4 1619.7 987.0 1621.8 988.7C1624.0 990.4 1626.1 992.1 1628.3 993.7C1630.4 995.4 1632.6 997.0 1634.7 998.6C1636.9 1000.2 1639.1 1001.9 1641.2 1003.6C1643.4 1005.3 1645.5 1007.0 1647.7 1008.6C1649.8 1010.2 1652.1 1011.9 1654.2 1013.5C1656.4 1015.1 1658.5 1016.8 1660.7 1018.4C1662.9 1020.0 1665.1 1021.7 1667.2 1023.3C1669.4 1024.9 1671.6 1026.6 1673.8 1028.2C1676.0 1029.8 1678.2 1031.5 1680.3 1033.1C1682.5 1034.7 1684.7 1036.4 1686.9 1038.0C1689.1 1039.6 1691.3 1041.3 1693.4 1042.9C1695.6 1044.5 1697.8 1046.2 1700.0 1047.8C1702.2 1049.4 1704.4 1051.1 1706.6 1052.8C1708.7 1054.5 1710.9 1056.0 1713.0 1057.7C1715.2 1059.4 1717.3 1061.0 1719.5 1062.7C1721.6 1064.4 1723.8 1066.0 1725.9 1067.7C1728.1 1069.4 1730.3 1071.1 1732.4 1072.8C1734.6 1074.5 1736.7 1076.2 1738.9 1077.9C1741.0 1079.6 1743.1 1081.4 1745.3 1083.1C1747.4 1084.8 1749.5 1086.5 1751.6 1088.3C1753.6 1090.0 1755.7 1091.8 1757.8 1093.6C1759.9 1095.4 1762.1 1097.1 1764.1 1098.9C1766.2 1100.7 1768.3 1102.5 1770.3 1104.3C1772.4 1106.1 1774.4 1108.0 1776.5 1109.8C1778.5 1111.6 1780.6 1113.4 1782.6 1115.3C1784.6 1117.2 1786.6 1119.1 1788.6 1121.0C1790.6 1122.9 1792.6 1124.8 1794.6 1126.7C1796.6 1128.6 1798.5 1130.6 1800.5 1132.6C1802.5 1134.6 1804.4 1136.5 1806.4 1138.5C1808.3 1140.5 1810.2 1142.5 1812.2 1144.5C1814.1 1146.5 1816.0 1148.6 1817.9 1150.6C1819.8 1152.6 1821.7 1154.7 1823.6 1156.7C1825.5 1158.8 1827.3 1160.8 1829.2 1162.9C1831.1 1165.0 1833.0 1167.1 1834.9 1169.2C1836.8 1171.3 1838.6 1173.3 1840.5 1175.4C1842.4 1177.5 1844.3 1179.6 1846.1 1181.7C1848.0 1183.8 1849.8 1185.8 1851.7 1187.9C1853.6 1190.0 1855.5 1192.1 1857.4 1194.2C1859.3 1196.3 1861.1 1198.3 1863.0 1200.4C1864.9 1202.5 1866.8 1204.6 1868.6 1206.7C1870.5 1208.8 1872.3 1210.9 1874.1 1213.0C1876.0 1215.1 1877.8 1217.3 1879.7 1219.4C1881.5 1221.5 1883.3 1223.6 1885.1 1225.8C1886.9 1228.0 1888.6 1230.2 1890.3 1232.4C1892.1 1234.6 1893.9 1236.8 1895.6 1239.1C1897.3 1241.3 1899.0 1243.6 1900.6 1245.9C1902.3 1248.2 1903.9 1250.6 1905.5 1252.9C1907.1 1255.2 1908.6 1257.6 1910.2 1260.0C1911.7 1262.4 1913.2 1264.9 1914.7 1267.4C1916.1 1269.9 1918.2 1273.7 1919.0 1275.0"/>
<path stroke="#ff0000" d="M411.5 873.2C412.2 874.5 414.2 878.4 415.8 880.9C417.3 883.4 419.0 885.9 420.9 888.1C422.7 890.4 424.7 892.4 426.8 894.4C428.9 896.4 431.0 898.2 433.3 899.9C435.5 901.5 437.8 903.0 440.2 904.3C442.5 905.5 445.0 906.6 447.4 907.4C449.9 908.2 452.4 908.9 454.8 909.3C457.3 909.7 459.8 909.8 462.2 909.8C464.7 909.8 467.2 909.5 469.6 909.0C472.0 908.5 474.3 907.8 476.6 906.9C479.0 906.0 481.2 904.9 483.4 903.6C485.6 902.3 487.8 900.8 489.8 899.2C491.9 897.6 493.9 895.8 495.9 893.9C497.8 892.0 499.7 889.9 501.6 887.7C503.4 885.6 505.2 883.3 507.0 881.0C508.8 878.7 510.5 876.2 512.2 873.8C513.9 871.4 515.5 868.9 517.2 866.4C518.8 863.9 520.5 861.3 522.1 858.8C523.7 856.3 525.3 853.9 526.8 851.4C528.4 848.9 529.9 846.5 531.4 844.0C532.9 841.5 534.4 839.1 535.9 836.6C537.3 834.1 538.8 831.7 540.3 829.2C541.7 826.7 543.2 824.3 544.6 821.8C546.0 819.3 547.3 816.8 548.6 814.3C550.0 811.8 551.3 809.2 552.7 806.7C554.0 804.2 555.3 801.7 556.6 799.1C557.9 796.5 559.2 793.9 560.4 791.3C561.7 788.7 563.0 786.2 564.2 783.6C565.5 781.0 566.8 778.4 568.0 775.8C569.3 773.2 570.5 770.6 571.7 768.0C573.0 765.4 574.3 762.8 575.5 760.2C576.8 757.6 578.0 754.9 579.3 752.3C580.6 749.7 581.8 747.1 583.1 744.5C584.4 741.9 585.7 739.3 587.0 736.7C588.3 734.1 589.6 731.6 590.9 729.0C592.3 726.4 593.6 723.8 595.0 721.3C596.4 718.8 597.7 716.2 599.1 713.7C600.5 711.2 602.0 708.6 603.4 706.1C604.9 703.6 606.4 701.1 607.9 698.6C609.5 696.1 611.0 693.6 612.6 691.2C614.2 688.8 615.8 686.4 617.4 684.0C619.1 681.6 620.8 679.2 622.5 676.8C624.2 674.4 626.0 672.1 627.8 669.8C629.6 667.5 631.4 665.2 633.3 663.1C635.2 661.0 637.2 658.9 639.1 657.0C641.1 655.1 643.1 653.2 645.2 651.5C647.2 649.8 649.3 648.2 651.5 646.8C653.6 645.4 655.8 644.3 658.0 643.3C660.3 642.3 662.6 641.5 664.9 641.0C667.3 640.5 669.7 640.2 672.1 640.2C674.5 640.2 676.9 640.5 679.4 640.9C681.9 641.3 684.4 642.0 686.9 642.9C689.4 643.8 691.9 644.8 694.3 646.0C696.8 647.2 699.2 648.6 701.6 650.1C703.9 651.6 706.1 653.3 708.3 655.0C710.5 656.7 712.6 658.5 714.7 660.4C716.7 662.3 718.7 664.3 720.6 666.4C722.5 668.5 724.3 670.7 726.1 672.9C727.9 675.1 729.6 677.4 731.3 679.7C733.0 682.0 734.6 684.5 736.1 686.9C737.7 689.3 739.2 691.8 740.7 694.3C742.2 696.8 743.7 699.3 745.1 701.9C746.5 704.5 747.9 707.0 749.2 709.6C750.6 712.2 751.9 714.8 753.2 717.4C754.5 720.0 755.8 722.6 757.1 725.2C758.3 727.8 759.5 730.5 760.7 733.2C761.9 735.9 763.1 738.5 764.2 741.2C765.4 743.9 766.5 746.6 767.6 749.3C768.7 752.0 769.8 754.7 770.9 757.4C771.9 760.1 773.0 762.9 774.1 765.6C775.1 768.3 776.1 771.0 777.2 773.8C778.2 776.5 779.2 779.3 780.2 782.1C781.2 784.9 782.2 787.6 783.2 790.4C784.2 793.2 785.1 795.9 786.1 798.7C787.1 801.5 788.1 804.2 789.1 807.0C790.0 809.8 791.0 812.6 792.0 815.4C793.0 818.2 793.9 820.9 794.9 823.7C795.9 826.5 796.9 829.2 797.8 832.0C798.8 834.8 799.8 837.5 800.8 840.3C801.8 843.1 802.8 845.8 803.8 848.6C804.8 851.4 805.8 854.1 806.8 856.9C807.8 859.7 808.9 862.5 809.9 865.2C810.9 868.0 811.9 870.7 812.9 873.4C814.0 876.1 815.1 878.9 816.1 881.6C817.2 884.3 818.2 887.1 819.3 889.8C820.4 892.5 821.4 895.3 822.5 898.0C823.6 900.7 824.6 903.5 825.7 906.2C826.8 908.9 827.9 911.6 829.0 914.3C830.1 917.0 831.2 919.7 832.3 922.4C833.4 925.1 834.6 927.8 835.7 930.5C836.8 933.2 838.0 935.9 839.1 938.6C840.3 941.3 841.4 943.9 842.6 946.6C843.7 949.3 844.9 951.9 846.0 954.6C847.2 957.3 848.5 959.9 849.7 962.6C850.8 965.3 852.0 968.0 853.2 970.6C854.4 973.2 855.7 975.9 856.9 978.5C858.1 981.1 859.4 983.8 860.6 986.4C861.8 989.0 863.0 991.7 864.3 994.3C865.6 996.9 866.9 999.5 868.2 1002.1C869.5 1004.7 870.8 1007.3 872.1 1009.9C873.4 1012.5 874.6 1015.1 875.9 1017.7C877.3 1020.3 878.6 1022.8 879.9 1025.4C881.3 1028.0 882.6 1030.5 884.0 1033.1C885.3 1035.7 886.7 1038.2 888.1 1040.8C889.5 1043.3 890.8 1045.9 892.2 1048.4C893.6 1050.9 895.0 1053.5 896.5 1056.0C897.9 1058.5 899.3 1061.1 900.8 1063.6C902.2 1066.1 903.7 1068.6 905.2 1071.1C906.6 1073.6 908.1 1076.0 909.6 1078.5C911.0 1081.0 912.5 1083.5 914.1 1086.0C915.6 1088.5 917.1 1091.0 918.6 1093.4C920.2 1095.9 921.7 1098.3 923.3 1100.7C924.9 1103.1 926.5 1105.5 928.1 1107.9C929.7 1110.3 931.3 1112.6 932.9 1114.9C934.6 1117.2 936.3 1119.6 937.9 1121.9C939.6 1124.2 941.3 1126.5 943.0 1128.7C944.7 1130.9 946.5 1133.1 948.3 1135.3C950.1 1137.5 951.9 1139.6 953.7 1141.7C955.5 1143.8 957.4 1145.9 959.3 1147.9C961.2 1149.9 963.1 1151.9 965.1 1153.8C967.0 1155.7 969.0 1157.7 971.0 1159.5C973.0 1161.3 975.1 1163.2 977.2 1164.9C979.2 1166.7 981.4 1168.3 983.5 1170.0C985.7 1171.7 987.9 1173.3 990.1 1174.8C992.3 1176.3 994.5 1177.8 996.7 1179.2C999.0 1180.6 1001.3 1182.0 1003.6 1183.3C1005.9 1184.6 1008.3 1185.9 1010.6 1187.1C1012.9 1188.3 1015.3 1189.4 1017.7 1190.4C1020.1 1191.5 1022.5 1192.5 1024.9 1193.4C1027.4 1194.3 1029.9 1195.1 1032.3 1195.9C1034.8 1196.7 1037.2 1197.4 1039.7 1198.1C1042.2 1198.8 1044.8 1199.3 1047.3 1199.8C1049.9 1200.3 1052.4 1200.7 1054.9 1201.1C1057.5 1201.5 1060.0 1201.8 1062.6 1202.1C1065.2 1202.4 1067.7 1202.5 1070.3 1202.7C1072.9 1202.9 1075.6 1202.9 1078.2 1203.0C1080.8 1203.1 1083.3 1203.1 1085.9 1203.1C1088.5 1203.1 1091.2 1203.0 1093.8 1202.9C1096.4 1202.8 1099.0 1202.7 1101.6 1202.5C1104.3 1202.3 1106.9 1202.1 1109.5 1201.9C1112.1 1201.7 1114.7 1201.5 1117.3 1201.3C1119.9 1201.1 1122.6 1200.8 1125.2 1200.5C1127.8 1200.2 1130.4 1199.9 1133.0 1199.6C1135.6 1199.3 1138.2 1199.0 1140.8 1198.7C1143.4 1198.4 1146.0 1198.0 1148.5 1197.6C1151.1 1197.2 1153.6 1196.9 1156.2 1196.5C1158.8 1196.1 1161.3 1195.7 1163.9 1195.3C1166.4 1194.9 1169.0 1194.5 1171.6 1194.1C1174.1 1193.7 1176.6 1193.2 1179.1 1192.7C1181.7 1192.2 1184.2 1191.6 1186.7 1191.1C1189.3 1190.6 1191.8 1190.0 1194.3 1189.5C1196.8 1189.0 1199.3 1188.4 1201.8 1187.8C1204.3 1187.2 1206.8 1186.6 1209.3 1185.9C1211.8 1185.2 1214.3 1184.6 1216.8 1183.9C1219.3 1183.2 1221.7 1182.5 1224.2 1181.7C1226.7 1181.0 1229.3 1180.2 1231.7 1179.4C1234.2 1178.6 1236.6 1177.8 1239.1 1176.9C1241.5 1176.0 1244.0 1175.1 1246.5 1174.2C1248.9 1173.3 1251.4 1172.4 1253.8 1171.4C1256.2 1170.4 1258.7 1169.4 1261.1 1168.4C1263.6 1167.4 1266.0 1166.3 1268.4 1165.2C1270.9 1164.1 1273.4 1163.1 1275.8 1161.9C1278.2 1160.8 1280.5 1159.5 1282.9 1158.3C1285.3 1157.1 1287.7 1155.9 1290.1 1154.6C1292.5 1153.3 1294.9 1152.0 1297.2 1150.7C1299.6 1149.4 1301.9 1148.1 1304.2 1146.7C1306.6 1145.3 1308.9 1143.9 1311.2 1142.5C1313.5 1141.1 1315.8 1139.6 1318.0 1138.1C1320.3 1136.6 1322.5 1135.1 1324.7 1133.6C1327.0 1132.1 1329.1 1130.5 1331.3 1128.9C1333.5 1127.3 1335.7 1125.7 1337.8 1124.1C1340.0 1122.5 1342.2 1120.8 1344.3 1119.2C1346.5 1117.6 1348.6 1115.9 1350.8 1114.3C1352.9 1112.7 1355.0 1111.1 1357.2 1109.4C1359.3 1107.8 1361.5 1106.1 1363.6 1104.4C1365.8 1102.8 1368.0 1101.1 1370.2 1099.5C1372.4 1097.9 1374.6 1096.2 1376.8 1094.7C1379.0 1093.2 1381.3 1091.7 1383.5 1090.2C1385.8 1088.7 1388.1 1087.3 1390.3 1085.9C1392.6 1084.5 1394.9 1083.2 1397.2 1082.0C1399.6 1080.8 1401.9 1079.6 1404.3 1078.5C1406.7 1077.4 1409.1 1076.5 1411.6 1075.6C1414.0 1074.7 1416.4 1074.0 1418.9 1073.3C1421.4 1072.6 1423.9 1071.9 1426.4 1071.4C1428.9 1070.9 1431.4 1070.5 1434.0 1070.1C1436.5 1069.7 1439.1 1069.5 1441.6 1069.2C1444.2 1069.0 1446.8 1068.7 1449.4 1068.6C1452.0 1068.5 1454.6 1068.5 1457.2 1068.5C1459.8 1068.5 1462.4 1068.5 1465.0 1068.6C1467.6 1068.7 1470.2 1068.8 1472.8 1069.0C1475.5 1069.2 1478.1 1069.5 1480.7 1069.7C1483.3 1070.0 1485.9 1070.2 1488.5 1070.5C1491.1 1070.8 1493.8 1071.2 1496.4 1071.5C1499.0 1071.8 1501.5 1072.2 1504.1 1072.6C1506.6 1073.0 1509.2 1073.5 1511.8 1073.9C1514.4 1074.4 1516.9 1074.8 1519.5 1075.3C1522.0 1075.8 1524.6 1076.3 1527.2 1076.8C1529.7 1077.3 1532.2 1077.9 1534.7 1078.5C1537.3 1079.1 1539.7 1079.8 1542.2 1080.4C1544.8 1081.0 1547.3 1081.6 1549.8 1082.3C1552.3 1083.0 1554.8 1083.7 1557.3 1084.4C1559.8 1085.1 1562.3 1085.9 1564.7 1086.7C1567.2 1087.5 1569.7 1088.3 1572.2 1089.1C1574.6 1089.9 1577.1 1090.7 1579.6 1091.6C1582.0 1092.5 1584.5 1093.4 1586.9 1094.3C1589.3 1095.2 1591.8 1096.1 1594.2 1097.1C1596.7 1098.0 1599.1 1099.0 1601.6 1100.0C1604.0 1101.0 1606.4 1102.0 1608.8 1103.1C1611.2 1104.1 1613.6 1105.2 1616.0 1106.3C1618.4 1107.4 1620.8 1108.6 1623.2 1109.7C1625.6 1110.8 1628.0 1111.9 1630.3 1113.1C1632.7 1114.2 1635.1 1115.4 1637.5 1116.6C1639.9 1117.8 1642.3 1119.0 1644.7 1120.2C1647.0 1121.4 1649.4 1122.6 1651.8 1123.8C1654.2 1125.0 1656.6 1126.3 1659.0 1127.5C1661.3 1128.7 1663.7 1130.0 1666.0 1131.2C1668.4 1132.5 1670.7 1133.8 1673.1 1135.0C1675.5 1136.2 1677.9 1137.5 1680.3 1138.7C1682.6 1140.0 1685.0 1141.2 1687.3 1142.5C1689.7 1143.8 1692.0 1145.0 1694.4 1146.2C1696.8 1147.4 1699.1 1148.7 1701.5 1149.9C1703.8 1151.1 1706.3 1152.4 1708.6 1153.6C1711.0 1154.8 1713.3 1156.0 1715.7 1157.2C1718.1 1158.4 1720.5 1159.6 1722.8 1160.8C1725.2 1162.0 1727.6 1163.1 1730.0 1164.3C1732.4 1165.5 1734.7 1166.5 1737.1 1167.7C1739.4 1168.9 1741.8 1170.1 1744.2 1171.2C1746.6 1172.3 1749.0 1173.5 1751.4 1174.6C1753.8 1175.7 1756.1 1176.9 1758.5 1178.0C1760.9 1179.1 1763.3 1180.3 1765.7 1181.4C1768.1 1182.5 1770.5 1183.7 1772.9 1184.8C1775.3 1185.9 1777.7 1187.0 1780.1 1188.1C1782.5 1189.2 1784.9 1190.3 1787.2 1191.5C1789.6 1192.7 1792.0 1193.8 1794.4 1195.0C1796.8 1196.2 1799.2 1197.2 1801.6 1198.4C1804.0 1199.6 1806.4 1200.7 1808.8 1201.9C1811.2 1203.1 1813.6 1204.2 1815.9 1205.4C1818.3 1206.6 1820.7 1207.8 1823.1 1209.0C1825.5 1210.2 1827.9 1211.4 1830.3 1212.6C1832.6 1213.8 1835.0 1215.0 1837.3 1216.3C1839.7 1217.5 1842.1 1218.8 1844.4 1220.1C1846.7 1221.4 1849.1 1222.7 1851.4 1224.0C1853.7 1225.3 1856.0 1226.6 1858.4 1227.9C1860.7 1229.2 1863.0 1230.6 1865.3 1232.0C1867.6 1233.4 1869.9 1234.8 1872.2 1236.2C1874.4 1237.6 1876.7 1239.1 1879.0 1240.6C1881.2 1242.1 1883.5 1243.6 1885.7 1245.1C1887.9 1246.6 1890.1 1248.1 1892.3 1249.7C1894.5 1251.3 1896.6 1252.9 1898.8 1254.5C1900.9 1256.1 1903.1 1257.7 1905.3 1259.4C1907.4 1261.1 1909.5 1262.8 1911.6 1264.6C1913.8 1266.3 1915.9 1268.1 1917.9 1269.9C1920.0 1271.7 1922.0 1273.5 1924.1 1275.4C1926.1 1277.3 1929.1 1280.1 1930.1 1281.1"/>
</g>
<g stroke="#000">
<line x1="418" y1="76" x2="2375" y2="76" stroke-width="10"/>
<line x1="418" y1="1332" x2="2375" y2="1332" stroke-width="10"/>
<line x1="423.5" y1="71" x2="423.5" y2="1337" stroke-width="11"/>
<line x1="2369.5" y1="71" x2="2369.5" y2="1337" stroke-width="11"/>
</g>
<g stroke="#000" stroke-linecap="round" stroke-width="10">
<line x1="409.8" y1="1331.8" x2="423.5" y2="1331.8"/>
<line x1="396.0" y1="1248.1" x2="423.5" y2="1248.1"/>
<line x1="409.8" y1="1164.4" x2="423.5" y2="1164.4"/>
<line x1="396.0" y1="1080.7" x2="423.5" y2="1080.7"/>
<line x1="409.8" y1="997.0" x2="423.5" y2="997.0"/>
<line x1="396.0" y1="913.3" x2="423.5" y2="913.3"/>
<line x1="409.8" y1="829.6" x2="423.5" y2="829.6"/>
<line x1="396.0" y1="745.9" x2="423.5" y2="745.9"/>
<line x1="409.8" y1="662.2" x2="423.5" y2="662.2"/>
<line x1="396.0" y1="578.5" x2="423.5" y2="578.5"/>
<line x1="409.8" y1="494.8" x2="423.5" y2="494.8"/>
<line x1="396.0" y1="411.1" x2="423.5" y2="411.1"/>
<line x1="409.8" y1="327.4" x2="423.5" y2="327.4"/>
<line x1="396.0" y1="243.7" x2="423.5" y2="243.7"/>
<line x1="409.8" y1="160.0" x2="423.5" y2="160.0"/>
<line x1="396.0" y1="76.3" x2="423.5" y2="76.3"/>
</g><g stroke="#000" stroke-linecap="round" stroke-width="10.6">
<line x1="423.5" y1="1331.8" x2="423.5" y2="1354.7"/>
<line x1="558.6" y1="1331.8" x2="558.6" y2="1343.7"/>
<line x1="693.8" y1="1331.8" x2="693.8" y2="1354.7"/>
<line x1="828.9" y1="1331.8" x2="828.9" y2="1343.7"/>
<line x1="964.0" y1="1331.8" x2="964.0" y2="1354.7"/>
<line x1="1099.1" y1="1331.8" x2="1099.1" y2="1343.7"/>
<line x1="1234.2" y1="1331.8" x2="1234.2" y2="1354.7"/>
<line x1="1369.4" y1="1331.8" x2="1369.4" y2="1343.7"/>
<line x1="1504.5" y1="1331.8" x2="1504.5" y2="1354.7"/>
<line x1="1639.6" y1="1331.8" x2="1639.6" y2="1343.7"/>
<line x1="1774.8" y1="1331.8" x2="1774.8" y2="1354.7"/>
<line x1="1909.9" y1="1331.8" x2="1909.9" y2="1343.7"/>
<line x1="2045.0" y1="1331.8" x2="2045.0" y2="1354.7"/>
<line x1="2180.1" y1="1331.8" x2="2180.1" y2="1343.7"/>
<line x1="2315.2" y1="1331.8" x2="2315.2" y2="1354.7"/>
</g>
<g class="ab" font-size="99" letter-spacing="4.7" fill="#000">
<text x="375.8" y="1271.6" text-anchor="end">60</text>
<text x="375.8" y="1104.2" text-anchor="end">80</text>
<text x="375.8" y="936.8" text-anchor="end">100</text>
<text x="375.8" y="769.4" text-anchor="end">120</text>
<text x="375.8" y="602.0" text-anchor="end">140</text>
<text x="375.8" y="434.6" text-anchor="end">160</text>
<text x="375.8" y="267.2" text-anchor="end">180</text>
<text x="375.8" y="99.8" text-anchor="end">200</text>
<text x="423.6" y="1443.2" text-anchor="middle">450</text>
<text x="693.8" y="1443.2" text-anchor="middle">475</text>
<text x="964.1" y="1443.2" text-anchor="middle">500</text>
<text x="1234.3" y="1443.2" text-anchor="middle">525</text>
<text x="1504.5" y="1443.2" text-anchor="middle">550</text>
<text x="1774.8" y="1443.2" text-anchor="middle">575</text>
<text x="2045.0" y="1443.2" text-anchor="middle">600</text>
<text x="2315.3" y="1443.2" text-anchor="middle">625</text>
</g>
<g class="ab" fill="#000">
<text x="963.9" y="1562.8" font-size="100" letter-spacing="4.1">Wavelength (nm)</text>
<text transform="translate(105.8 1144.2) rotate(-90)" font-size="100"><tspan x="0" letter-spacing="-1.7">PL Intensity</tspan><tspan x="631" letter-spacing="-1.5">(a.u)</tspan></text>
</g>
<rect x="1941.5" y="147.7" width="303" height="251.5" fill="none" stroke="#000" stroke-width="3"/>
<g stroke-linecap="round" stroke-width="17" fill="none">
<line x1="1941.2" y1="186.5" x2="2123.7" y2="186.5" stroke="#0000ff"/>
<line x1="1941.2" y1="273.2" x2="2123.7" y2="273.2" stroke="#960000"/>
<line x1="1941.2" y1="358.6" x2="2123.7" y2="358.6" stroke="#ff0000"/>
</g>
<g class="ar" font-size="72.9" letter-spacing="4.7" fill="#000">
<text x="2145.6" y="211.9">S3</text>
<text x="2145.6" y="297.2">S2</text>
<text x="2145.6" y="382.5">S1</text>
</g>
<line x1="646.9" y1="140.0" x2="646.9" y2="923.4" stroke="#0000ff" stroke-width="4.8" stroke-dasharray="21 1.6 5 1.6"/>
<path d="M636.4 923.4L657.4 923.4L646.9 957.4Z" fill="#0000ff"/>
<line x1="691.6" y1="342.0" x2="691.6" y2="1004.5" stroke="#960000" stroke-width="4.8" stroke-dasharray="21 1.6 5 1.6"/>
<path d="M681.1 1004.5L702.1 1004.5L691.6 1038.5Z" fill="#960000"/>
<line x1="785.2" y1="647.0" x2="785.2" y2="1107.8" stroke="#ff0000" stroke-width="4.8" stroke-dasharray="21 1.6 5 1.6"/>
<path d="M774.7 1107.8L795.7 1107.8L785.2 1141.8Z" fill="#ff0000"/>
<line x1="1602.6" y1="851.0" x2="1602.6" y2="539.3" stroke="#0000ff" stroke-width="4.8" stroke-dasharray="15.7 10.3 1.7 9.8" stroke-linecap="round"/>
<path d="M1592.1 539.3L1613.1 539.3L1602.6 505.3Z" fill="#0000ff"/>
<line x1="1689.3" y1="892.0" x2="1689.3" y2="634.9" stroke="#960000" stroke-width="4.8" stroke-dasharray="15.7 10.3 1.7 9.8" stroke-linecap="round"/>
<path d="M1678.8 634.9L1699.8 634.9L1689.3 600.9Z" fill="#960000"/>
<line x1="1676.5" y1="1061.5" x2="1676.5" y2="738.2" stroke="#ff0000" stroke-width="4.8" stroke-dasharray="15.7 10.3 1.7 9.8" stroke-linecap="round"/>
<path d="M1666.0 738.2L1687.0 738.2L1676.5 704.2Z" fill="#ff0000"/>
<text x="442.9" y="1021.6" fill="#000" font-size="66.0" letter-spacing="4.8"><tspan class="tb"><tspan font-size="71.5">λ</tspan>=471</tspan><tspan class="ab" font-size="70.0" dx="3.5">nm</tspan></text>
<text x="477.9" y="1111.9" fill="#960000" font-size="66.0" letter-spacing="4.8"><tspan class="tb"><tspan font-size="71.5">λ</tspan>=474.5</tspan><tspan class="ab" font-size="70.0" dx="3.5">nm</tspan></text>
<text x="666.1" y="1223.3" fill="#ff0000" font-size="71.6" letter-spacing="5.2"><tspan class="tb"><tspan font-size="77.6">λ</tspan>=483</tspan><tspan class="ab" font-size="76.0" dx="3.8">nm</tspan></text>
<text x="1564.0" y="507.8" fill="#000" font-size="66.0" letter-spacing="4.8"><tspan class="tb"><tspan font-size="71.5">λ</tspan>=559</tspan><tspan class="ab" font-size="70.0" dx="3.5">nm</tspan></text>
<text x="1714.6" y="623.4" fill="#960000" font-size="66.0" letter-spacing="4.8"><tspan class="tb"><tspan font-size="71.5">λ</tspan>=567</tspan><tspan class="ab" font-size="70.0" dx="3.5">nm</tspan></text>
<text x="1712.0" y="776.9" fill="#ff0000" font-size="66.0" letter-spacing="4.8"><tspan class="tb"><tspan font-size="71.5">λ</tspan>=566</tspan><tspan class="ab" font-size="70.0" dx="3.5">nm</tspan></text>
</svg></body></html>
